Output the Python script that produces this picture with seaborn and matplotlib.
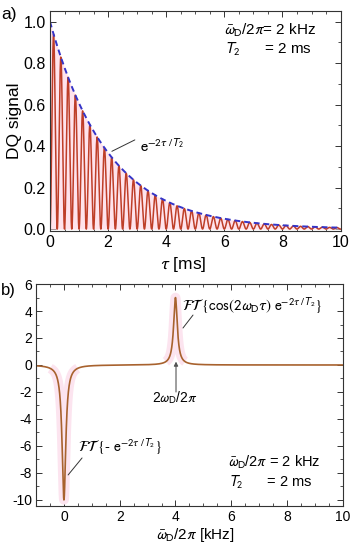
import numpy as np
import pandas as pd
import matplotlib
matplotlib.use("Agg")
import matplotlib.pyplot as plt
from matplotlib.ticker import MultipleLocator, FormatStrFormatter
import seaborn as sns

# parameters
omega_d_khz = 2.0        # omega_D / 2pi [kHz]
t2_ms = 2.0              # T2 [ms]

# spectrum peaks read from panel b)
peak_centers_khz = [0.0, 4.0, -4.0]
peak_heights = [-10.0, 5.0, 5.0]

tau_ms = np.linspace(0, 10, 6001)
freq_khz = np.linspace(-1, 10, 22001)

envelope = np.exp(-tau_ms / t2_ms)
dq_signal = envelope * np.sin(2 * np.pi * omega_d_khz * tau_ms) ** 2

spectrum = np.zeros_like(freq_khz)
for c, h in zip(peak_centers_khz, peak_heights):
    spectrum += h / (1 + (2 * np.pi * (freq_khz - c) * t2_ms) ** 2)

df_time = pd.DataFrame({"tau": tau_ms, "dq": dq_signal, "env": envelope})
df_freq = pd.DataFrame({"f": freq_khz, "s": spectrum})

sns.set_theme(style="ticks")
plt.rcParams["font.family"] = ["Liberation Sans", "DejaVu Sans"]
plt.rcParams["mathtext.fontset"] = "stixsans"
plt.rcParams["axes.unicode_minus"] = False
plt.rcParams["text.color"] = "black"
plt.rcParams["axes.labelcolor"] = "black"
plt.rcParams["xtick.labelcolor"] = "black"
plt.rcParams["ytick.labelcolor"] = "black"

fig = plt.figure(figsize=(3.57, 5.5), dpi=100)
ax1 = fig.add_axes([0.140, 0.5805, 0.814, 0.400])
ax2 = fig.add_axes([0.101, 0.080, 0.859, 0.4036])

# panel a)
ax1.fill_between(tau_ms, 0, envelope, color="#FFE3EC", lw=0)
sns.lineplot(data=df_time, x="tau", y="dq", ax=ax1, color="#BE3E28", lw=1.1)
sns.lineplot(data=df_time, x="tau", y="env", ax=ax1, color="#3535C8", lw=1.4,
             linestyle=(0, (3, 2)))
ax1.set_xlim(0, 10)
ax1.set_ylim(-0.008, 1.053)
ax1.xaxis.set_major_locator(MultipleLocator(2))
ax1.xaxis.set_minor_locator(MultipleLocator(0.5))
ax1.yaxis.set_major_locator(MultipleLocator(0.2))
ax1.yaxis.set_minor_locator(MultipleLocator(0.1))
ax1.yaxis.set_major_formatter(FormatStrFormatter("%.1f"))
ax1.set_xlabel("")
ax1.set_ylabel("DQ signal", fontsize=12.5, labelpad=1)
ax1.tick_params(labelsize=11.5, pad=3)

ax1.text(3.1, 0.40, r"$\mathrm{e}^{-2\tau\ /T_2}$", fontsize=11.5, va="center")
ax1.annotate("", xy=(2.13, 0.375), xytext=(2.92, 0.43),
             arrowprops=dict(arrowstyle="-", color="#333333", lw=0.7, shrinkA=0, shrinkB=0))
ax1.text(6.0, 0.96, r"$\bar{\omega}_\mathrm{D}$/2$\pi$= 2 kHz", fontsize=11, va="center")
ax1.text(6.0, 0.865, r"$T_2$      = 2 ms", fontsize=11, va="center")

# panel b)
glow = np.where(np.abs(spectrum) > 0.25, spectrum, np.nan)
ax2.plot(freq_khz, glow, color="#FCE4EF", lw=7, solid_capstyle="butt")
sns.lineplot(data=df_freq, x="f", y="s", ax=ax2, color="#A8622E", lw=1.2)
ax2.set_xlim(-1, 10)
ax2.set_ylim(-10.45, 6)
ax2.xaxis.set_major_locator(MultipleLocator(2))
ax2.xaxis.set_minor_locator(MultipleLocator(0.5))
ax2.yaxis.set_major_locator(MultipleLocator(2))
ax2.yaxis.set_minor_locator(MultipleLocator(1))
ax2.set_xlabel("")
ax2.set_ylabel("")
ax2.tick_params(labelsize=10, pad=3)

ax2.text(4.22, 4.44, r"$\mathcal{FT}\,\{\mathrm{cos}(2\omega_\mathrm{D}\tau)\ \mathrm{e}^{-2\tau\ /T_2}\}$",
         fontsize=10.8, va="center")
ax2.annotate("", xy=(4.27, 2.74), xytext=(4.63, 3.70),
             arrowprops=dict(arrowstyle="-", color="#333333", lw=0.7, shrinkA=0, shrinkB=0))
ax2.annotate("", xy=(4.02, 0.25), xytext=(4.02, -2.0),
             arrowprops=dict(arrowstyle="-|>", color="#555555", lw=0.8,
                             mutation_scale=6, shrinkA=0, shrinkB=0))
ax2.text(3.16, -2.44, r"2$\omega_\mathrm{D}$/2$\pi$", fontsize=10, va="center")
ax2.text(0.5, -6.07, r"$\mathcal{FT}\,\{$- $\mathrm{e}^{-2\tau\ /T_2}\}$", fontsize=10.8,
         va="center")
ax2.annotate("", xy=(0.15, -8.15), xytext=(0.65, -6.89),
             arrowprops=dict(arrowstyle="-", color="#333333", lw=0.7, shrinkA=0, shrinkB=0))
ax2.text(5.9, -7.19, r"$\bar{\omega}_\mathrm{D}$/2$\pi$ = 2 kHz", fontsize=10.5, va="center")
ax2.text(5.9, -8.67, r"$T_2$      = 2 ms", fontsize=10.5, va="center")

for ax in (ax1, ax2):
    ax.tick_params(which="both", direction="in", top=True, right=True, color="#333333")
    ax.tick_params(which="major", length=4, width=0.7)
    ax.tick_params(which="minor", length=2.2, width=0.6)
    for sp in ax.spines.values():
        sp.set_linewidth(0.8)
        sp.set_color("#333333")

fig.text(183 / 357, 1 - 265 / 550, r"$\tau$ [ms]", fontsize=12.5, ha="center", va="center")
fig.text(195 / 357, 1 - 535 / 550, r"$\bar{\omega}_\mathrm{D}$/2$\pi$ [kHz]", fontsize=11,
         ha="center", va="center")
fig.text(0.003, 1 - 15 / 550, "a)", fontsize=12.5, va="center")
fig.text(0.003, 1 - 291 / 550, "b)", fontsize=12, va="center")

fig.savefig("out.png", dpi=100)
